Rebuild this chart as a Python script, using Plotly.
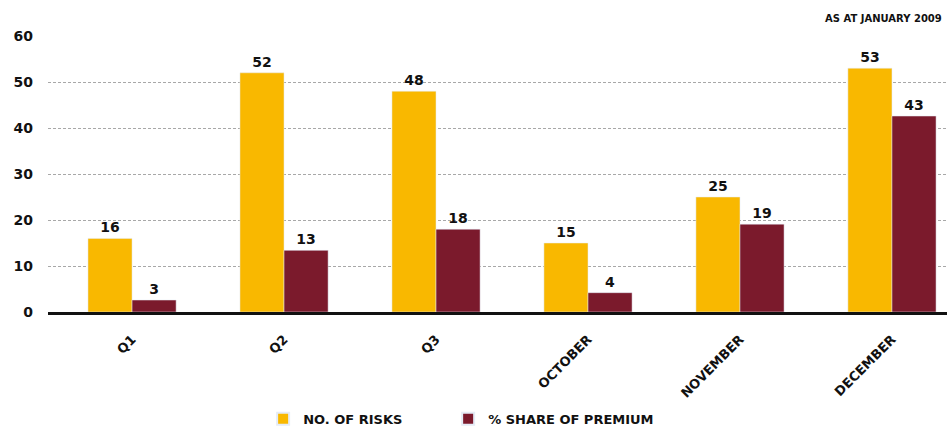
import plotly.graph_objects as go

categories = ["Q1", "Q2", "Q3", "OCTOBER", "NOVEMBER", "DECEMBER"]
risks = [16, 52, 48, 15, 25, 53]
premium = [2.6, 13.4, 18, 4.2, 19.1, 42.6]
y_ticks = [0, 10, 20, 30, 40, 50, 60]

YELLOW = "#F9B800"
MAROON = "#7B1A2C"
FONT = "DejaVu Sans"

fig = go.Figure()
fig.add_trace(go.Bar(
    x=categories, y=risks, name="NO. OF RISKS", marker_color=YELLOW,
    texttemplate="%{y:.0f}", textposition="outside", cliponaxis=False,
    textfont=dict(family=FONT, size=14, color="#111", weight="bold"),
    legend="legend",
))
fig.add_trace(go.Bar(
    x=categories, y=premium, name="% SHARE OF PREMIUM", marker_color=MAROON,
    texttemplate="%{y:.0f}", textposition="outside", cliponaxis=False,
    textfont=dict(family=FONT, size=14, color="#111", weight="bold"),
    legend="legend2",
))

legend_font = dict(family=FONT, size=13, color="#111", weight="bold")

fig.update_layout(
    width=947, height=428,
    margin=dict(l=48, r=0, t=36, b=116, autoexpand=False),
    paper_bgcolor="white", plot_bgcolor="white",
    barmode="group", bargap=0.42, bargroupgap=0,
    font=dict(family=FONT, color="#111"),
    showlegend=True,
    legend=dict(
        orientation="h", x=0.2393, y=-0.4417, xanchor="left", yanchor="bottom",
        font=legend_font, itemsizing="constant",
    ),
    legend2=dict(
        orientation="h", x=0.4451, y=-0.4417, xanchor="left", yanchor="bottom",
        font=legend_font, itemsizing="constant",
    ),
    xaxis=dict(
        range=[-0.553, 5.362], tickangle=-45, automargin=False,
        showline=True, linecolor="#111", linewidth=2.5,
        ticks="", showgrid=False, ticklabelstandoff=12,
        tickfont=dict(family=FONT, size=13, color="#111", weight="bold"),
    ),
    yaxis=dict(
        range=[0, 60], tickvals=y_ticks, ticks="", automargin=False,
        showgrid=True, gridcolor="#a8a8a8", griddash="3px,2px", gridwidth=1,
        zeroline=False, ticklabelstandoff=14,
        tickfont=dict(family=FONT, size=14, color="#111", weight="bold"),
    ),
    annotations=[dict(
        text="AS AT JANUARY 2009", xref="paper", yref="paper",
        x=0.997, y=1.0, xanchor="right", yanchor="bottom", yshift=10,
        showarrow=False,
        font=dict(family=FONT, size=10, color="#111", weight="bold"),
    )],
)

fig.write_html("out.html")
